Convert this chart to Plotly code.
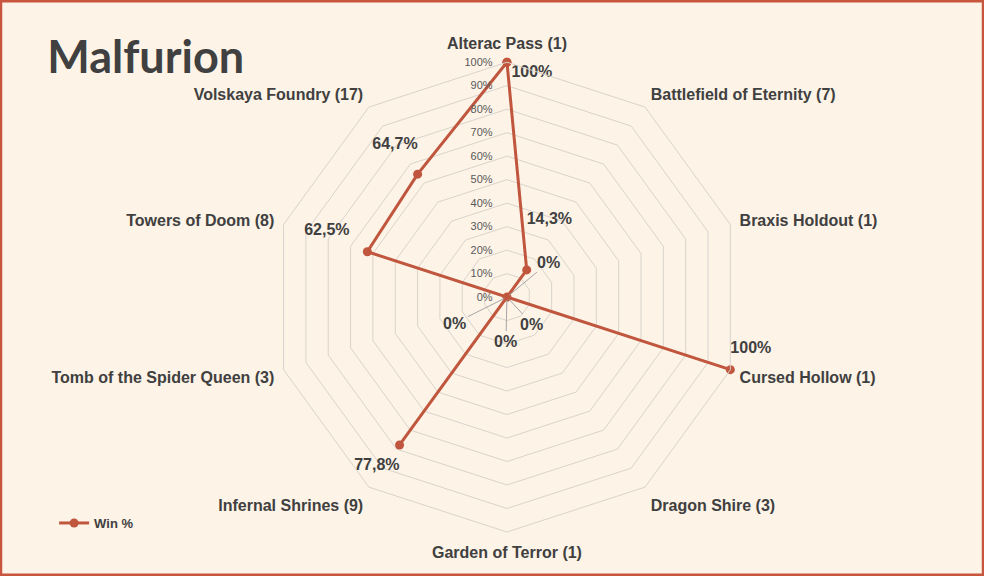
import plotly.graph_objects as go

# maps with number of games played
maps = [
    "Alterac Pass (1)",
    "Battlefield of Eternity (7)",
    "Braxis Holdout (1)",
    "Cursed Hollow (1)",
    "Dragon Shire (3)",
    "Garden of Terror (1)",
    "Infernal Shrines (9)",
    "Tomb of the Spider Queen (3)",
    "Towers of Doom (8)",
    "Volskaya Foundry (17)",
]
win_pct = [100, 14.3, 0, 100, 0, 0, 77.8, 0, 62.5, 64.7]
radial_ticks = list(range(0, 101, 10))

# label placement for non-zero points:
# (textposition, padding spaces, blank lines before, blank lines after)
label_style = [
    ("middle right", 1, 1, 0),
    ("top right", 0, 0, 2),
    None,
    ("middle right", 0, 0, 2),
    None,
    None,
    ("middle left", 0, 2, 0),
    None,
    ("middle left", 4, 0, 2),
    ("top left", 0, 0, 1),
]
# pixel offsets (dx, dy) of the 0% labels from the centre, with leader lines
zero_offsets = {2: (42, -35), 4: (25, 27), 5: (-1, 44), 7: (-52, 26)}

RUST = "#C0563D"
TEXT = "#404040"
BG = "#FDF3E7"
GRID = "#D9D4CC"
LEADER = "#A6A6A6"
NB = "\u00a0"
DOM_X = [0.2764, 0.754]
DOM_Y = [0.0764, 0.892]
LABEL_FONT = dict(family="Liberation Sans", size=16, color=TEXT, weight="bold")


def fmt(v):
    s = f"{v:.1f}".rstrip("0").rstrip(".")
    return s.replace(".", ",") + "%"


def padded(v, style):
    pos, sp, before, after = style
    s = fmt(v)
    if pos.endswith("right"):
        s = NB * sp + s
    elif pos.endswith("left"):
        s = s + NB * sp
    return (NB + "<br>") * before + s + ("<br>" + NB) * after


# close the polygon
theta = maps + maps[:1]
r = win_pct + win_pct[:1]

fig = go.Figure()

fig.add_trace(
    go.Scatterpolar(
        r=r,
        theta=theta,
        mode="lines+markers",
        name="Win %",
        line=dict(color=RUST, width=3),
        marker=dict(color=RUST, size=9),
        hoverinfo="skip",
    )
)

# data labels for the points away from the centre
idx = [i for i, s in enumerate(label_style) if s is not None]
fig.add_trace(
    go.Scatterpolar(
        r=[win_pct[i] for i in idx],
        theta=[maps[i] for i in idx],
        mode="text",
        text=[padded(win_pct[i], label_style[i]) for i in idx],
        textposition=[label_style[i][0] for i in idx],
        textfont=LABEL_FONT,
        showlegend=False,
        hoverinfo="skip",
    )
)

# plotly hides points sitting exactly at r=0, so the centre is done by hand
cx = sum(DOM_X) / 2
cy = sum(DOM_Y) / 2
annotations = []
for i, (dx, dy) in zero_offsets.items():
    annotations.append(
        dict(
            x=cx,
            y=cy,
            xref="paper",
            yref="paper",
            text=fmt(win_pct[i]),
            font=LABEL_FONT,
            showarrow=True,
            arrowhead=0,
            arrowwidth=1,
            arrowcolor=LEADER,
            standoff=3,
            ax=dx,
            ay=dy,
        )
    )

fig.update_layout(
    width=984,
    height=576,
    margin=dict(l=0, r=0, t=0, b=0),
    paper_bgcolor=BG,
    plot_bgcolor=BG,
    title=dict(
        text="Malfurion",
        x=0.048,
        xanchor="left",
        y=0.9,
        yanchor="middle",
        font=dict(family="Lato", size=45, color=TEXT, weight="bold"),
    ),
    polar=dict(
        bgcolor=BG,
        domain=dict(x=DOM_X, y=DOM_Y),
        gridshape="linear",
        radialaxis=dict(
            range=[0, 100],
            tickvals=radial_ticks,
            ticktext=[f"{t}%" for t in radial_ticks],
            angle=90,
            tickangle=90,
            side="counterclockwise",
            showline=False,
            ticks="outside",
            ticklen=10,
            tickcolor="rgba(0,0,0,0)",
            gridcolor=GRID,
            gridwidth=1,
            tickfont=dict(family="Liberation Sans", size=11, color="#595959"),
        ),
        angularaxis=dict(
            rotation=90,
            direction="clockwise",
            showgrid=False,
            showline=True,
            linecolor=GRID,
            ticks="outside",
            ticklen=6,
            tickcolor="rgba(0,0,0,0)",
            tickfont=dict(family="Liberation Sans", size=16, color=TEXT, weight="bold"),
        ),
    ),
    legend=dict(
        x=0.055,
        y=0.092,
        xanchor="left",
        yanchor="middle",
        bgcolor="rgba(0,0,0,0)",
        font=dict(family="Liberation Sans", size=13, color=TEXT, weight="bold"),
    ),
    annotations=annotations,
    shapes=[
        dict(
            type="rect",
            xref="paper",
            yref="paper",
            x0=0.001,
            x1=0.999,
            y0=0.002,
            y1=0.998,
            line=dict(color="#C8553D", width=2.5),
        ),
        # the overlapping 0% markers at the centre
        dict(
            type="circle",
            xref="paper",
            yref="paper",
            xsizemode="pixel",
            ysizemode="pixel",
            xanchor=cx,
            yanchor=cy,
            x0=-4.5,
            x1=4.5,
            y0=-4.5,
            y1=4.5,
            fillcolor=RUST,
            line=dict(width=0),
        ),
    ],
)

fig.write_html(
    "out.html",
    config={"displayModeBar": False},
    post_script="document.body.style.margin='0';document.body.style.overflow='hidden';",
)
